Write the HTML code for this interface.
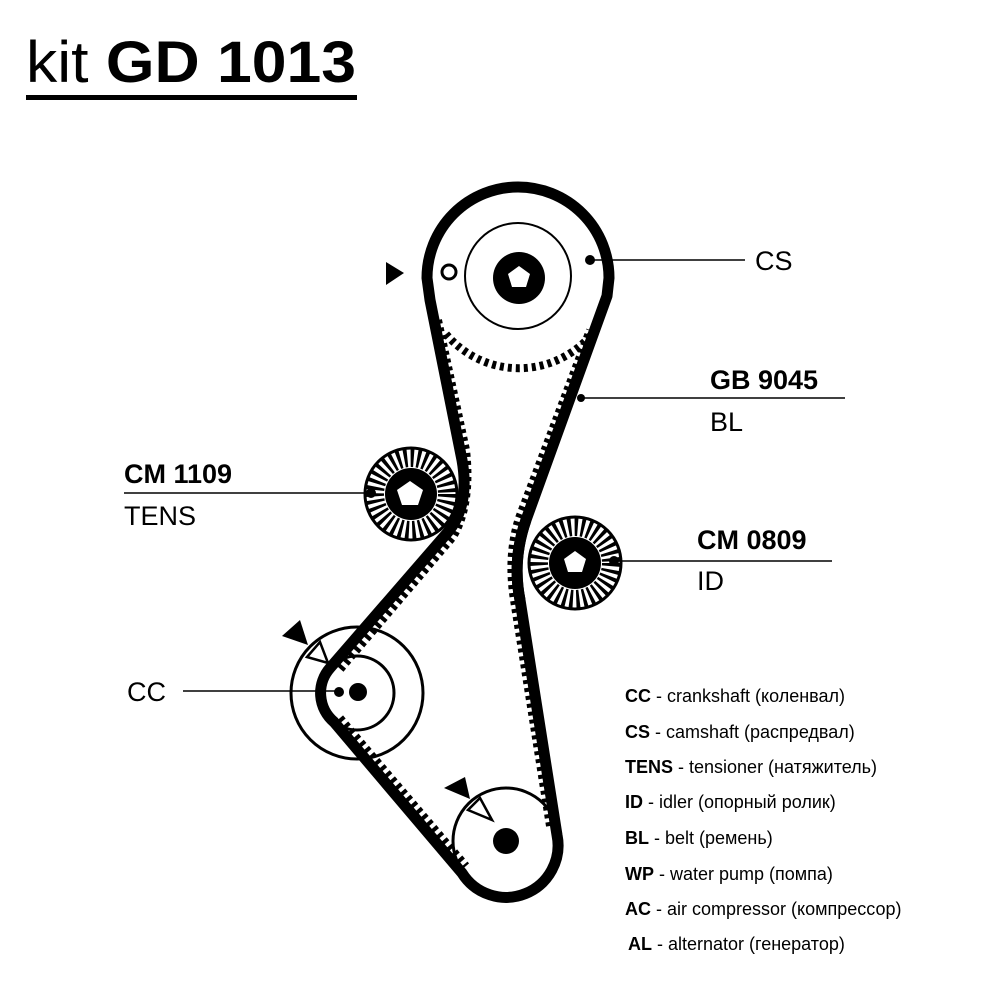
<!DOCTYPE html>
<html><head><meta charset="utf-8"><style>
html,body{margin:0;padding:0;background:#fff}
svg{display:block}
text{font-family:"Liberation Sans","Noto Sans CJK SC",sans-serif;fill:#000}
</style></head><body>
<svg width="1000" height="1000" viewBox="0 0 1000 1000" xmlns="http://www.w3.org/2000/svg">
<rect width="1000" height="1000" fill="#fff"/>
<!-- title -->
<text x="26" y="82" font-size="58" textLength="330" lengthAdjust="spacingAndGlyphs">kit <tspan font-weight="bold">GD 1013</tspan></text>
<rect x="26" y="95" width="331" height="5" fill="#000"/>

<!-- cam teeth arc -->
<path d="M 446,334 A 95 95 0 0 0 592,334" fill="none" stroke="#000" stroke-width="8" stroke-dasharray="4 4"/>
<!-- belt teeth (inner side) -->
<g fill="none" stroke="#000" stroke-width="8" stroke-dasharray="4 4">
<path d="M 438,320 L 466,450 Q 472,505 453,537 L 338,672"/>
<path d="M 340,718 L 466,866"/>
<path d="M 550,826 L 514,600 Q 507,555 519,518 L 590,330"/>
</g>
<!-- belt -->
<path d="M 427,278 A 91 91 0 0 1 609,278 L 607,296 L 526,520 Q 512,560 520,600 L 557,835 A 52 52 0 0 1 462,873 L 334,722 A 38 38 0 0 1 330,668 L 448,532 Q 470,505 462,460 L 430,300 Z" fill="none" stroke="#000" stroke-width="11" stroke-linejoin="round"/>

<!-- cam pulley -->
<circle cx="518" cy="276" r="53" fill="none" stroke="#000" stroke-width="2"/>
<circle cx="519" cy="278" r="26" fill="#000"/>
<polygon points="519,266 530,274 526,287 512,287 508,274" fill="#fff"/>
<circle cx="449" cy="272" r="7" fill="none" stroke="#000" stroke-width="3"/>
<circle cx="590" cy="260" r="5" fill="#000"/>
<polygon points="386,262 386,285 404,273" fill="#000"/>

<!-- tensioner -->
<circle cx="411" cy="494" r="46" fill="#fff" stroke="#000" stroke-width="3"/>
<circle cx="411" cy="494" r="36" fill="none" stroke="#000" stroke-width="18" stroke-dasharray="3.2 3.3"/>
<circle cx="411" cy="494" r="26" fill="#000"/>
<polygon points="410,481 423,490 418,505 402,505 397,490" fill="#fff"/>
<circle cx="371" cy="493" r="5" fill="#000"/>

<!-- idler -->
<circle cx="575" cy="563" r="46" fill="#fff" stroke="#000" stroke-width="3"/>
<circle cx="575" cy="563" r="36" fill="none" stroke="#000" stroke-width="18" stroke-dasharray="3.2 3.3"/>
<circle cx="575" cy="563" r="26" fill="#000"/>
<polygon points="575,551 586,559 582,572 568,572 564,559" fill="#fff"/>
<circle cx="614" cy="561" r="5" fill="#000"/>
<!-- belt redraw over idler -->
<path d="M 526,520 Q 512,560 520,600" fill="none" stroke="#000" stroke-width="11"/>

<!-- crank -->
<circle cx="357" cy="693" r="66" fill="none" stroke="#000" stroke-width="3"/>
<circle cx="357" cy="693" r="37" fill="none" stroke="#000" stroke-width="3"/>
<circle cx="339" cy="692" r="5" fill="#000"/>
<circle cx="358" cy="692" r="9" fill="#000"/>
<polygon points="282,636 300,620 308,645" fill="#000"/>
<polygon points="307,657 328,663 320,642" fill="#fff" stroke="#000" stroke-width="2.5"/>

<!-- water pump -->
<circle cx="506" cy="841" r="53" fill="none" stroke="#000" stroke-width="3"/>
<circle cx="506" cy="841" r="13" fill="#000"/>
<polygon points="444,788 465,777 470,799" fill="#000"/>
<polygon points="468,810 492,820 480,798" fill="#fff" stroke="#000" stroke-width="2.5"/>

<!-- leader lines -->
<g stroke="#000" stroke-width="1.5">
<line x1="590" y1="260" x2="745" y2="260"/>
<line x1="580" y1="398" x2="845" y2="398"/>
<line x1="124" y1="493" x2="371" y2="493"/>
<line x1="614" y1="561" x2="832" y2="561"/>
<line x1="183" y1="691" x2="339" y2="691"/>
</g>
<circle cx="581" cy="398" r="4" fill="#000"/>

<!-- labels -->
<g font-size="27">
<text x="755" y="270">CS</text>
<text x="710" y="389" font-weight="bold">GB 9045</text>
<text x="710" y="431">BL</text>
<text x="124" y="483" font-weight="bold">CM 1109</text>
<text x="124" y="525">TENS</text>
<text x="697" y="549" font-weight="bold">CM 0809</text>
<text x="697" y="590">ID</text>
<text x="127" y="701">CC</text>
</g>

<!-- legend -->
<g font-size="18">
<text x="625" y="702"><tspan font-weight="bold">CC</tspan> - crankshaft (коленвал)</text>
<text x="625" y="738"><tspan font-weight="bold">CS</tspan> - camshaft (распредвал)</text>
<text x="625" y="773"><tspan font-weight="bold">TENS</tspan> - tensioner (натяжитель)</text>
<text x="625" y="808"><tspan font-weight="bold">ID</tspan> - idler (опорный ролик)</text>
<text x="625" y="844"><tspan font-weight="bold">BL</tspan> - belt (ремень)</text>
<text x="625" y="880"><tspan font-weight="bold">WP</tspan> - water pump (помпа)</text>
<text x="625" y="915"><tspan font-weight="bold">AC</tspan> - air compressor (компрессор)</text>
<text x="628" y="950"><tspan font-weight="bold">AL</tspan> - alternator (генератор)</text>
</g>
</svg>
</body></html>
